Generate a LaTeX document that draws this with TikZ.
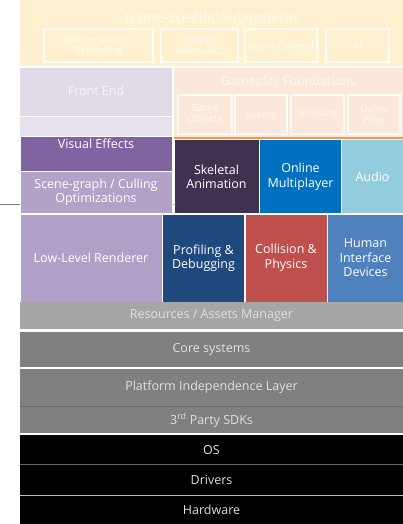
\documentclass[tikz,border=0pt]{standalone}
\usepackage{fontspec}
\setmainfont{Open Sans}
\begin{document}
\begin{tikzpicture}[x=1pt,y=-1pt,
  blk/.style={draw=white,line width=1pt},
  lbl/.style={text=white,align=center,font=\fontsize{12.5}{14.5}\selectfont,inner sep=0pt},
  dlbl/.style={text=black!12,align=center,font=\fontsize{12.5}{14.5}\selectfont,inner sep=0pt},
  flbl/.style={text=white,align=center,font=\fontsize{12.5}{14}\selectfont,inner sep=0pt,opacity=0.75},
  slbl/.style={text=white,align=center,font=\fontsize{10}{11.5}\selectfont,inner sep=0pt,opacity=0.8},
  sub/.style={draw=white,line width=1.2pt,opacity=0.85}]
\definecolor{cYel}{HTML}{FEF1CF}
\definecolor{cFE}{HTML}{E0DBE7}
\definecolor{cFE2}{HTML}{E6E0EC}
\definecolor{cGF}{HTML}{FCE7DB}
\definecolor{cOra}{HTML}{F79646}
\definecolor{cVE}{HTML}{8064A2}
\definecolor{cSG}{HTML}{B3A2C7}
\definecolor{cLL}{HTML}{B1A0C7}
\definecolor{cSk}{HTML}{403151}
\definecolor{cOM}{HTML}{0070C0}
\definecolor{cAu}{HTML}{93CDDD}
\definecolor{cPr}{HTML}{1F497D}
\definecolor{cCo}{HTML}{C0504D}
\definecolor{cHI}{HTML}{4F81BD}
\definecolor{cRe}{HTML}{A6A6A6}
\definecolor{cGr}{HTML}{808080}
\useasboundingbox (0,0) rectangle (403,524);
\fill[white] (0,0) rectangle (403,524);
% line behind
\coordinate (lnA) at (0,204);
\coordinate (lnB) at (403,204);
\draw[black!50,line width=1pt] (lnA) -- (lnB);
% Game specific
\fill[cYel] (20,0) rectangle (403,66);
\node[flbl,font=\fontsize{14}{15}\selectfont] (gss) at (212,19) {Game-Specific Subsystems};
\draw[sub] (44,29) rectangle (153,62); \node[slbl] (gsr) at (98.5,45.5) {Game-Specific\\Rendering};
\draw[sub] (161,29) rectangle (238,62); \node[slbl] (pm) at (199.5,45.5) {Player\\Mechanics};
\draw[sub] (245,29) rectangle (317,62); \node[slbl] (gc) at (281,45.5) {Game Camera};
\draw[sub] (326,29) rectangle (389,62); \node[slbl] (ai) at (357.5,45.5) {AI};
% Front end
\fill[cFE2] (20,68) rectangle (172,136);
\fill[cFE] (20,68) rectangle (172,116);
\draw[white,line width=1pt] (20,116.5) -- (172,116.5);
\node[flbl] (fe) at (96,91) {Front End};
% Gameplay foundations
\fill[cGF] (174,68) rectangle (403,137);
\node[flbl] (gf) at (288.5,82) {Gameplay Foundations};
\draw[sub] (178,95) rectangle (232,134); \node[slbl] (go) at (205,114.5) {Game\\Objects};
\draw[sub] (235,95) rectangle (287,134); \node[slbl] (ev) at (261,114.5) {Events};
\draw[sub] (291,95) rectangle (344,134); \node[slbl] (sc) at (317.5,114.5) {Scripting};
\draw[sub] (348,95) rectangle (400,134); \node[slbl] (gfl) at (374,114.5) {Game\\Flow};
\draw[cOra,line width=2pt] (174,137.5) -- (403,137.5);
% Rendering column
\filldraw[blk,fill=cVE] (20,136) rectangle (172,171.5);
\node[lbl] (ve) at (96,143.5) {Visual Effects};
\filldraw[blk,fill=cSG] (20,171.5) rectangle (172,213.5);
\node[lbl] (sg) at (96,192.5) {Scene-graph / Culling\\Optimizations};
\filldraw[blk,fill=cSk] (174,139.5) rectangle (259,213.5);
\node[lbl] (sk) at (216.5,177) {Skeletal\\Animation};
\filldraw[blk,fill=cOM] (259.5,139.5) rectangle (341.5,213.5);
\node[lbl] (om) at (300.5,177) {Online\\Multiplayer};
\filldraw[blk,fill=cAu] (341.5,139.5) rectangle (403.5,213.5);
\node[lbl] (au) at (372.5,177) {Audio};
\filldraw[blk,fill=cLL] (20,214.5) rectangle (162.5,302);
\node[lbl] (ll) at (91,258) {Low-Level Renderer};
\filldraw[blk,fill=cPr] (162.5,214.5) rectangle (244.5,302);
\node[lbl] (pr) at (203.5,258) {Profiling \&\\Debugging};
\filldraw[blk,fill=cCo] (245,214.5) rectangle (327,302);
\node[lbl] (co) at (286,258) {Collision \&\\Physics};
\filldraw[blk,fill=cHI] (327.5,214.5) rectangle (403.5,302);
\node[lbl] (hi) at (365.5,258) {Human\\Interface\\Devices};
% Layers
\fill[cRe] (20,302) rectangle (403,329);
\node[dlbl] (re) at (211.5,316) {Resources / Assets Manager};
\fill[cGr] (20,332) rectangle (403,367);
\node[dlbl] (cs) at (211.5,349.5) {Core systems};
\fill[cGr] (20,369) rectangle (403,433);
\draw[black!58,line width=1pt] (20,406) -- (403,406);
\node[dlbl] (pil) at (211.5,387.5) {Platform Independence Layer};
\node[dlbl] (sdk) at (211.5,420) {3\textsuperscript{rd} Party SDKs};
\fill[black] (20,435) rectangle (403,524);
\draw[black!60,line width=1pt] (20,464.5) -- (403,464.5);
\draw[black!25,line width=1pt] (20,495.5) -- (403,495.5);
\node[dlbl] (os) at (211.5,450) {OS};
\node[dlbl] (dr) at (211.5,480) {Drivers};
\node[dlbl] (hw) at (211.5,510) {Hardware};
\end{tikzpicture}
\end{document}
